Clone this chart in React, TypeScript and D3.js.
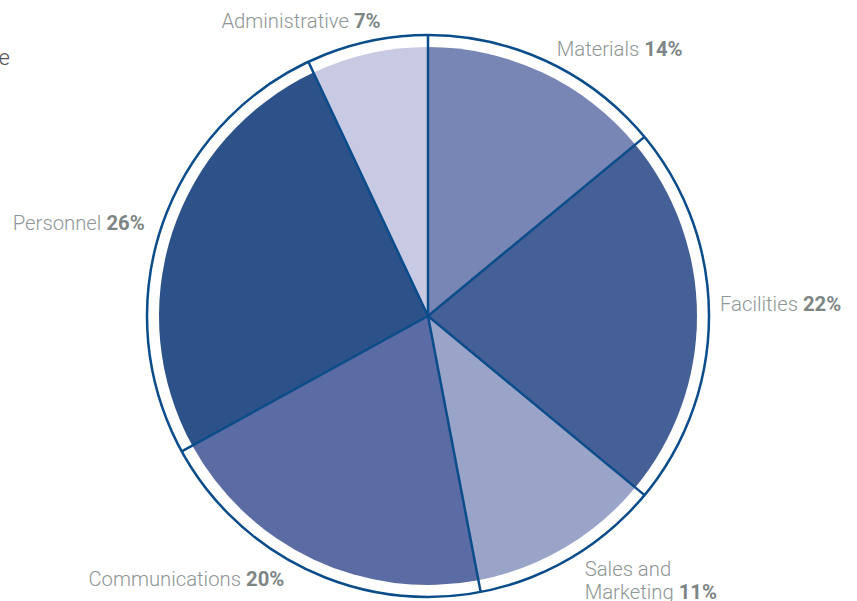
import React, { useRef, useEffect } from 'react';
import * as d3 from 'd3';

const categories = ['Materials', 'Facilities', 'Sales and Marketing', 'Communications', 'Personnel', 'Administrative'];
const shares = [14, 22, 11, 20, 26, 7];
const sliceColors = ['#7886b5', '#455f97', '#9aa4c9', '#5a6ca3', '#2c5289', '#c8cae3'];
const labelLines = [['Materials'], ['Facilities'], ['Sales and', 'Marketing'], ['Communications'], ['Personnel'], ['Administrative']];

const App: React.FC = () => {
  const svgRef = useRef<SVGSVGElement>(null);
  const width = 857;
  const height = 601;

  useEffect(() => {
    if (!svgRef.current) return;
    const svg = d3.select(svgRef.current);
    svg.selectAll('*').remove();

    const cx = 428;
    const cy = 316;
    const fillR = 269;
    const ringR = 281;
    const labelR = 300;
    const stroke = '#0b4c8a';

    // cut-off title on the left edge
    svg.append('text')
      .attr('x', 10)
      .attr('y', 65)
      .attr('text-anchor', 'end')
      .style('font-family', 'Roboto, sans-serif')
      .style('font-weight', 300)
      .style('font-size', '22px')
      .style('fill', '#555')
      .text('e');

    const data = categories.map((c, i) => ({ name: c, value: shares[i], color: sliceColors[i], lines: labelLines[i] }));
    const pie = d3.pie<any>().value(d => d.value).sort(null);
    const arcs = pie(data);

    const g = svg.append('g').attr('transform', `translate(${cx},${cy})`);

    const arc = d3.arc<any>().innerRadius(0).outerRadius(fillR);

    g.selectAll('.slice')
      .data(arcs)
      .enter()
      .append('path')
      .attr('class', 'slice')
      .attr('d', arc)
      .attr('fill', d => d.data.color);

    g.append('circle')
      .attr('r', ringR)
      .attr('fill', 'none')
      .attr('stroke', stroke)
      .attr('stroke-width', 2.5);

    g.selectAll('.sep')
      .data(arcs)
      .enter()
      .append('line')
      .attr('class', 'sep')
      .attr('x1', 0)
      .attr('y1', 0)
      .attr('x2', d => ringR * Math.sin(d.startAngle))
      .attr('y2', d => -ringR * Math.cos(d.startAngle))
      .attr('stroke', stroke)
      .attr('stroke-width', 2.5);

    // labels, placed outside each slice's mid-angle with small hand nudges
    const nudges: Record<string, [number, number]> = {
      Materials: [1, 4],
      Facilities: [-8, -12],
      'Sales and Marketing': [4, 6],
      Communications: [-16, -9],
      Personnel: [2, 0],
      Administrative: [18, -2],
    };
    const lineH = 22.5;
    arcs.forEach(a => {
      const mid = (a.startAngle + a.endAngle) / 2;
      const nx = Math.sin(mid);
      const ny = -Math.cos(mid);
      const nudge = nudges[a.data.name] || [0, 0];
      const x = nx * labelR + nudge[0];
      const y = ny * labelR + nudge[1];
      const anchor = nx < 0 ? 'end' : 'start';
      const lines: string[] = a.data.lines;
      const y0 = y - ((lines.length - 1) * lineH) / 2;
      const t = g.append('text')
        .attr('text-anchor', anchor)
        .style('font-family', 'Roboto, sans-serif')
        .style('font-size', '20.3px')
        .style('fill', '#8e9696');
      lines.forEach((ln, li) => {
        t.append('tspan')
          .attr('x', x)
          .attr('y', y0 + li * lineH)
          .attr('dy', '0.35em')
          .style('font-weight', 300)
          .text(ln);
        if (li === lines.length - 1) {
          t.append('tspan')
            .style('font-weight', 700)
            .style('fill', '#7d8585')
            .text(' ' + a.data.value + '%');
        }
      });
    });
  }, []);

  return (
    <svg
      ref={svgRef}
      width={width}
      height={height}
      style={{ position: 'absolute', left: 0, top: 0, background: '#fff' }}
      viewBox={`0 0 ${width} ${height}`}
    />
  );
};

export default App;
